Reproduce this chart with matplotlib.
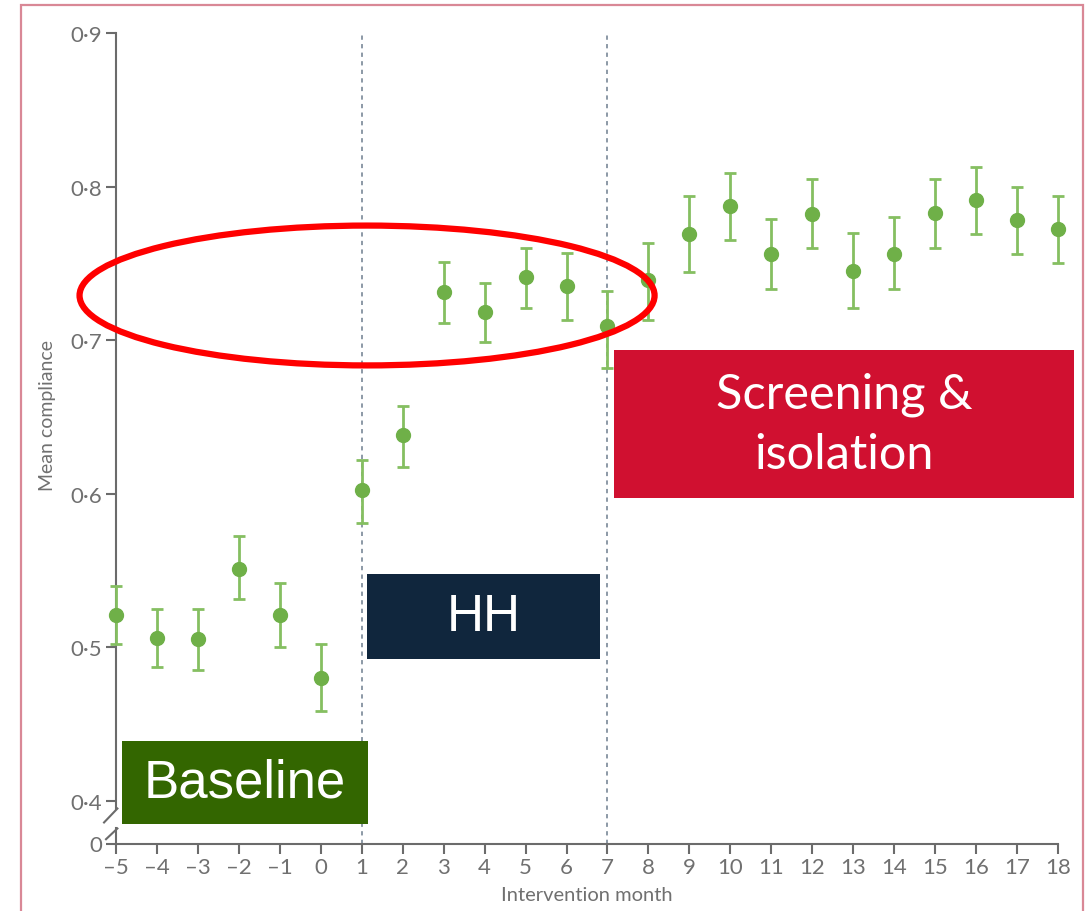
import matplotlib
matplotlib.use("Agg")
import matplotlib.pyplot as plt
from matplotlib.patches import Ellipse, Rectangle

# monthly mean compliance with 95% CI
months = [-5, -4, -3, -2, -1, 0, 1, 2, 3, 4, 5, 6, 7, 8, 9, 10, 11, 12, 13, 14, 15, 16, 17, 18]
mean = [0.521, 0.506, 0.505, 0.551, 0.521, 0.480, 0.602, 0.638, 0.731, 0.718, 0.741, 0.735,
        0.709, 0.739, 0.769, 0.787, 0.756, 0.782, 0.745, 0.756, 0.783, 0.791, 0.778, 0.772]
lower = [0.502, 0.487, 0.485, 0.531, 0.500, 0.458, 0.581, 0.617, 0.711, 0.699, 0.721, 0.713,
         0.682, 0.713, 0.744, 0.765, 0.733, 0.760, 0.721, 0.733, 0.760, 0.769, 0.756, 0.750]
upper = [0.540, 0.525, 0.525, 0.572, 0.542, 0.502, 0.622, 0.657, 0.751, 0.737, 0.760, 0.757,
         0.732, 0.763, 0.794, 0.809, 0.779, 0.805, 0.770, 0.780, 0.805, 0.813, 0.800, 0.794]

phase_starts = [1, 7]
yticks = [0.4, 0.5, 0.6, 0.7, 0.8, 0.9]
ytick_labels = ["0·4", "0·5", "0·6", "0·7", "0·8", "0·9"]
y_bottom = 0.372   # where the broken axis shows 0

W, H = 1085, 912
fig = plt.figure(figsize=(W / 100, H / 100), dpi=100)
ax = fig.add_axes([116 / W, 1 - 844.5 / H, 942 / W, 810.5 / H])

grey = "#6b6b6b"
green = "#6fb048"

yerr = [[m - l for m, l in zip(mean, lower)], [u - m for m, u in zip(mean, upper)]]
ax.errorbar(months, mean, yerr=yerr, fmt="o", color=green, ecolor="#85bf61",
            markersize=10, elinewidth=2.0, capsize=4, capthick=2.0, clip_on=False, zorder=4)

for m in phase_starts:
    ax.axvline(m, color="#8c99a6", lw=1.4, ls=(0, (2.2, 2.2)), zorder=1)

ax.set_xlim(-5, 18)
ax.set_ylim(y_bottom, 0.9)
ax.set_xticks(months)
ax.set_xticklabels([str(m).replace("-", "\u2013") for m in months])
ax.set_yticks(yticks + [y_bottom])
ax.set_yticklabels(ytick_labels + ["0"])

for s in ["top", "right", "left"]:
    ax.spines[s].set_visible(False)
ax.spines["bottom"].set_color(grey)
ax.spines["bottom"].set_linewidth(1.5)
ax.tick_params(axis="both", direction="out", length=7, width=1.5, color=grey,
               labelcolor="#707070", labelsize=16, pad=3)
for lab in ax.get_xticklabels() + ax.get_yticklabels():
    lab.set_family("Lato")

# y axis with break between 0 and 0.4
ytr = ax.get_yaxis_transform()
kw = dict(color=grey, lw=1.5, transform=ytr, clip_on=False, zorder=3)
ax.plot([0, 0], [0.9, 0.3948], **kw)
ax.plot([0, 0], [0.3818, y_bottom], **kw)
ax.plot([-0.0127, 0.0015], [0.3857, 0.3948], **kw)
ax.plot([-0.0106, 0.0015], [0.3748, 0.3818], **kw)

fig.text(587 / W, 1 - 896 / H, "Intervention month", ha="center", va="center",
         fontsize=14.5, color="#707070", family="Lato")
fig.text(48 / W, 1 - 416 / H, "Mean compliance", ha="center", va="center",
         rotation=90, fontsize=14, color="#707070", family="Lato")

# highlight ellipse around the HH plateau
ax.add_patch(Ellipse((1.13, 0.729), 14.04, 0.0911, fill=False, ec="red", lw=4.5,
                     clip_on=False, zorder=5))


def label_box(x0, y0, x1, y1, color, text, size, family, ls=1.2):
    fig.add_artist(Rectangle((x0 / W, 1 - y1 / H), (x1 - x0) / W, (y1 - y0) / H,
                             transform=fig.transFigure, fc=color, ec="none", zorder=6))
    fig.text((x0 + x1) / 2 / W, 1 - (y0 + y1) / 2 / H, text, ha="center", va="center",
             color="white", fontsize=size, family=family, linespacing=ls, zorder=7)


label_box(122, 742, 368, 825, "#336600", "Baseline", 38, "Liberation Sans")
label_box(367, 575, 600, 660, "#10263d", "HH", 37, "Liberation Sans")
label_box(614, 351, 1074, 499, "#d01030", "Screening &\nisolation", 35, "Lato", 1.45)

# outer frame
fig.add_artist(Rectangle((21 / W, -0.01), (1083 - 21) / W, 0.01 + 1 - 6 / H,
                         transform=fig.transFigure, fill=False, ec="#d98896", lw=1.6))

fig.savefig("out.png", dpi=100)
